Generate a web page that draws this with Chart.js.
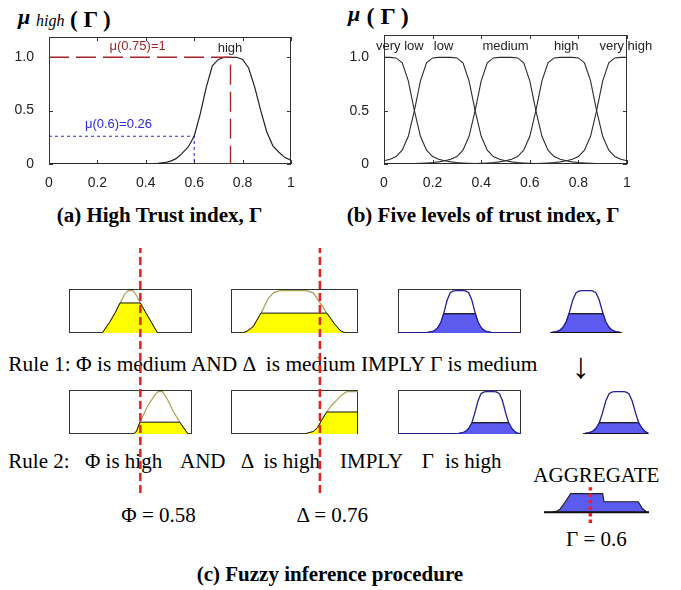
<!DOCTYPE html>
<html>
<head>
<meta charset="utf-8">
<script src="https://cdn.jsdelivr.net/npm/chart.js@4.4.1/dist/chart.umd.min.js"></script>
<style>
  html, body { margin: 0; padding: 0; background: #fff; }
  #page { position: relative; width: 681px; height: 590px; overflow: hidden;
          font-family: "Liberation Serif", "Times New Roman", serif; color: #000; }
  canvas { position: absolute; }
  .t { position: absolute; white-space: pre; line-height: 1; }
</style>
</head>
<body>
<div id="page"></div>
<script>
// ---- data ----
const trustGrid = [0, 0.025, 0.05, 0.075, 0.1, 0.125, 0.15, 0.175, 0.2, 0.225, 0.25, 0.275, 0.3, 0.325,
  0.35, 0.375, 0.4, 0.425, 0.45, 0.475, 0.5, 0.525, 0.55, 0.575, 0.6, 0.625, 0.65, 0.675, 0.7,
  0.725, 0.75, 0.775, 0.8, 0.825, 0.85, 0.875, 0.9, 0.925, 0.95, 0.975, 1];

// (a) high trust membership
const muHigh = [0, 0, 0, 0, 0, 0, 0, 0, 0, 0, 0, 0, 0, 0, 0, 0, 0, 0, 0.005, 0.012, 0.025, 0.05, 0.1,
  0.16, 0.26, 0.47, 0.72, 0.92, 0.98, 1, 1, 1, 0.98, 0.9, 0.72, 0.5, 0.3, 0.17, 0.11, 0.06, 0.035];

// (b) five levels
const veryLow = [1, 1, 0.995, 0.95, 0.78, 0.5, 0.26, 0.13, 0.07, 0.045, 0.03, 0.02, 0.014, 0.01, 0.007,
  0.005, 0.004, 0.003, 0.002, 0.002, 0.001, 0.001, 0.001, 0.001, 0, 0, 0, 0, 0, 0, 0, 0, 0, 0, 0, 0, 0, 0, 0, 0, 0];
const low = [0.03, 0.045, 0.07, 0.13, 0.26, 0.5, 0.78, 0.95, 0.995, 1, 1, 1, 0.995, 0.95, 0.78, 0.5, 0.26,
  0.13, 0.07, 0.045, 0.03, 0.02, 0.014, 0.01, 0.007, 0.005, 0.004, 0.003, 0.002, 0.002, 0.001, 0.001, 0.001,
  0, 0, 0, 0, 0, 0, 0, 0];
const medium = [0.001, 0.002, 0.002, 0.003, 0.004, 0.005, 0.007, 0.01, 0.014, 0.02, 0.03, 0.045, 0.07, 0.13,
  0.26, 0.5, 0.78, 0.95, 0.995, 1, 1, 1, 0.995, 0.95, 0.78, 0.5, 0.26, 0.13, 0.07, 0.045, 0.03, 0.02, 0.014,
  0.01, 0.007, 0.005, 0.004, 0.003, 0.002, 0.002, 0.001];
const high = [0, 0, 0, 0, 0, 0, 0, 0, 0.001, 0.001, 0.001, 0.002, 0.002, 0.003, 0.004, 0.005, 0.007, 0.01,
  0.014, 0.02, 0.03, 0.045, 0.07, 0.13, 0.26, 0.5, 0.78, 0.95, 0.995, 1, 1, 1, 0.995, 0.95, 0.78, 0.5, 0.26,
  0.13, 0.07, 0.045, 0.03];
const veryHigh = [0, 0, 0, 0, 0, 0, 0, 0, 0, 0, 0, 0, 0, 0, 0, 0, 0, 0.001, 0.001, 0.001, 0.001, 0.002, 0.002,
  0.003, 0.004, 0.005, 0.007, 0.01, 0.014, 0.02, 0.03, 0.045, 0.07, 0.13, 0.26, 0.5, 0.78, 0.95, 0.995, 1, 1];
const levelNames = ['very low', 'low', 'medium', 'high', 'very high'];

const xTicks = [0, 0.2, 0.4, 0.6, 0.8, 1];
const yTicks = [0, 0.5, 1];
const PEAK = 0.75, PROBE = 0.6, PROBE_MU = 0.26;

// (c) inference panels, [x, membership]
const phiMedium = [[0.27, 0], [0.33, 0.25], [0.38, 0.5], [0.415, 0.71], [0.45, 0.9], [0.48, 1], [0.52, 1],
  [0.55, 0.88], [0.58, 0.71], [0.62, 0.5], [0.67, 0.25], [0.72, 0]];
const phiMediumCut = [[0.27, 0], [0.33, 0.25], [0.38, 0.5], [0.415, 0.71], [0.58, 0.71], [0.62, 0.5],
  [0.67, 0.25], [0.72, 0]];
const deltaMedium = [[0.274, 0], [0.3, 0.04], [0.34, 0.15], [0.389, 0.47], [0.435, 0.82], [0.47, 0.96],
  [0.509, 1], [0.677, 1], [0.718, 0.95], [0.771, 0.66], [0.803, 0.47], [0.855, 0.2], [0.89, 0.05], [0.918, 0]];
const deltaMediumCut = [[0.274, 0], [0.3, 0.04], [0.34, 0.15], [0.389, 0.47], [0.803, 0.47], [0.855, 0.2],
  [0.89, 0.05], [0.918, 0]];
const gammaMedium = [[0, 0], [0.23, 0], [0.25, 0.018], [0.275, 0.03], [0.3, 0.06], [0.325, 0.13], [0.35, 0.26],
  [0.375, 0.5], [0.4, 0.78], [0.425, 0.95], [0.45, 0.995], [0.475, 1], [0.5, 1], [0.525, 1], [0.55, 0.995],
  [0.575, 0.95], [0.6, 0.78], [0.625, 0.5], [0.65, 0.26], [0.675, 0.13], [0.7, 0.06], [0.725, 0.03],
  [0.75, 0.018], [0.77, 0], [1, 0]];
const gammaMediumCut = [[0.23, 0], [0.25, 0.018], [0.275, 0.03], [0.3, 0.06], [0.325, 0.13], [0.35, 0.26],
  [0.372, 0.46], [0.628, 0.46], [0.65, 0.26], [0.675, 0.13], [0.7, 0.06], [0.725, 0.03], [0.75, 0.018], [0.77, 0]];

const phiHigh = [[0.527, 0], [0.55, 0.07], [0.576, 0.28], [0.645, 0.69], [0.7, 0.93], [0.724, 1], [0.76, 1],
  [0.8, 0.82], [0.848, 0.53], [0.9, 0.28], [0.967, 0]];
const phiHighCut = [[0.527, 0], [0.55, 0.07], [0.576, 0.28], [0.9, 0.28], [0.967, 0]];
const deltaHigh = [[0.666, 0], [0.69, 0.03], [0.72, 0.06], [0.745, 0.15], [0.775, 0.35], [0.803, 0.52],
  [0.835, 0.68], [0.866, 0.8], [0.9, 0.93], [0.93, 1], [1, 1]];
const deltaHighCut = [[0.666, 0], [0.69, 0.03], [0.72, 0.06], [0.745, 0.15], [0.775, 0.35], [0.803, 0.52],
  [1, 0.52], [1, 0]];
const gammaHigh = [[0, 0], [0.48, 0], [0.5, 0.018], [0.525, 0.03], [0.55, 0.06], [0.575, 0.13], [0.6, 0.26],
  [0.625, 0.5], [0.65, 0.78], [0.675, 0.95], [0.7, 0.995], [0.725, 1], [0.75, 1], [0.775, 1], [0.8, 0.995],
  [0.825, 0.95], [0.85, 0.78], [0.875, 0.5], [0.9, 0.26], [0.925, 0.13], [0.95, 0.05], [0.97, 0.02], [1, 0.01]];
const gammaHighCut = [[0.48, 0], [0.5, 0.018], [0.525, 0.03], [0.55, 0.06], [0.575, 0.13], [0.6, 0.26],
  [0.602, 0.27], [0.898, 0.27], [0.9, 0.26], [0.925, 0.13], [0.95, 0.05], [0.97, 0.02], [0.97, 0]];

const aggregate = [[0.26, 0], [0.316, 0], [0.35, 0.02], [0.377, 0.07], [0.41, 0.22], [0.456, 0.44],
  [0.69, 0.44], [0.7, 0.25], [0.951, 0.25], [0.98, 0.1], [1.013, 0], [1.03, 0]];

const PHI = 0.58, DELTA = 0.76, GAMMA = 0.6;

// ---- helpers ----
const page = document.getElementById('page');
const pts = (xs, ys) => xs.map((x, i) => ({ x, y: ys[i] }));
const pairs = a => a.map(([x, y]) => ({ x, y }));

function addCanvas(left, top, w, h, z) {
  const c = document.createElement('canvas');
  c.width = w; c.height = h;
  Object.assign(c.style, { left: left + 'px', top: top + 'px', width: w + 'px', height: h + 'px', zIndex: z });
  page.appendChild(c);
  return c;
}

function text(str, x, base, size, css) {
  const d = document.createElement('div');
  d.className = 't';
  d.textContent = str;
  d.style.left = x + 'px';
  d.style.top = (base - 0.8375 * size) + 'px';
  d.style.fontSize = size + 'px';
  if (css) Object.assign(d.style, css);
  page.appendChild(d);
}

// box around the plot area, with matlab-like inward ticks
const frame = {
  id: 'frame',
  beforeDatasetsDraw(chart, args, o) {
    if (!o.show) return;
    const { ctx, chartArea: a } = chart;
    ctx.save();
    ctx.strokeStyle = '#333';
    ctx.lineWidth = 1;
    ctx.strokeRect(a.left + 0.5, a.top + 0.5, a.right - a.left - 1, a.bottom - a.top - 1);
    if (o.ticks) {
      const { x, y } = chart.scales;
      ctx.beginPath();
      xTicks.forEach(v => {
        const px = Math.round(x.getPixelForValue(v)) + 0.5;
        ctx.moveTo(px, a.bottom); ctx.lineTo(px, a.bottom - 4);
        ctx.moveTo(px, a.top); ctx.lineTo(px, a.top + 4);
      });
      yTicks.forEach(v => {
        const py = Math.round(y.getPixelForValue(v)) + 0.5;
        ctx.moveTo(a.left, py); ctx.lineTo(a.left + 4, py);
        ctx.moveTo(a.right, py); ctx.lineTo(a.right - 4, py);
      });
      ctx.stroke();
    }
    ctx.restore();
  }
};

const tags = {
  id: 'tags',
  afterDatasetsDraw(chart, args, o) {
    const { ctx, scales: { x, y } } = chart;
    ctx.save();
    ctx.font = '13px "Liberation Sans"';
    ctx.textAlign = 'center';
    ctx.textBaseline = 'middle';
    (o.items || []).forEach(t => {
      ctx.fillStyle = t.color || '#222';
      ctx.fillText(t.text, x.getPixelForValue(t.x), y.getPixelForValue(t.y));
    });
    ctx.restore();
  }
};

const tickFont = { family: 'Liberation Sans', size: 14 };

function trustChart(left, width, yMax, padTop, padRight, datasets, items) {
  const c = addCanvas(left, 0, width, 190, 1);
  new Chart(c, {
    type: 'line',
    data: { datasets },
    options: {
      responsive: false, animation: false, events: [],
      layout: { padding: { top: padTop, right: padRight, left: 0, bottom: 0 } },
      elements: { point: { radius: 0 }, line: { tension: 0 } },
      plugins: { legend: { display: false }, tooltip: { enabled: false }, frame: { show: true, ticks: true }, tags: { items } },
      scales: {
        x: {
          type: 'linear', min: 0, max: 1,
          afterBuildTicks: s => { s.ticks = xTicks.map(v => ({ value: v })); },
          afterFit: s => { s.height = 26; },
          grid: { display: false }, border: { display: false },
          ticks: { font: tickFont, color: '#222', padding: 3, maxRotation: 0, autoSkip: false, callback: v => String(v) }
        },
        y: {
          min: 0, max: yMax,
          afterBuildTicks: s => { s.ticks = yTicks.map(v => ({ value: v })); },
          afterFit: s => { s.width = 49; },
          grid: { display: false }, border: { display: false },
          ticks: { font: tickFont, color: '#222', padding: 7, callback: v => (v === 0 ? '0' : v.toFixed(1)) }
        }
      }
    },
    plugins: [frame, tags]
  });
}

function panel(area, xRange, yRange, datasets, boxed) {
  const p = 3;
  const c = addCanvas(area.left - p, area.top - p, area.w + 2 * p, area.h + 2 * p, 1);
  new Chart(c, {
    type: 'line',
    data: { datasets },
    options: {
      responsive: false, animation: false, events: [],
      layout: { padding: p },
      elements: { point: { radius: 0 }, line: { tension: 0 } },
      plugins: { legend: { display: false }, tooltip: { enabled: false }, frame: { show: boxed } },
      scales: {
        x: { type: 'linear', min: xRange[0], max: xRange[1], display: false },
        y: { min: yRange[0], max: yRange[1], display: false }
      }
    },
    plugins: [frame]
  });
}

function marker(left, w, xRange, value, top, h) {
  const c = addCanvas(left, top, w, h, 3);
  new Chart(c, {
    type: 'line',
    data: { datasets: [{ data: [{ x: value, y: 0 }, { x: value, y: 1 }], borderColor: '#e8201c', borderWidth: 2.5, borderDash: [8, 4] }] },
    options: {
      responsive: false, animation: false, events: [],
      layout: { padding: 0 },
      elements: { point: { radius: 0 } },
      plugins: { legend: { display: false }, tooltip: { enabled: false } },
      scales: {
        x: { type: 'linear', min: xRange[0], max: xRange[1], display: false },
        y: { min: 0, max: 1, display: false }
      }
    }
  });
}

// dataset styles
const KHAKI = '#a9a152', YELLOW = '#ffff00', NAVY = '#20209a', BLUE = '#5b5bf0';
const yellowOutline = d => ({ data: pairs(d), borderColor: KHAKI, borderWidth: 1.2, fill: false, order: 2 });
const yellowCut = d => ({ data: pairs(d), borderColor: '#111', borderWidth: 1, backgroundColor: YELLOW, fill: 'origin', order: 1 });
const blueOutline = d => ({ data: pairs(d), borderColor: NAVY, borderWidth: 1.3, fill: false, order: 2 });
const blueCut = d => ({ data: pairs(d), borderWidth: 1.2, backgroundColor: BLUE, fill: 'origin', order: 1, borderColor: NAVY });
// the flat top of a clipped set (the firing level)
const cutLevel = d => {
  const lvl = Math.max(...d.map(p => p[1]));
  const top = d.filter(p => p[1] === lvl);
  return { data: pairs([top[0], top[top.length - 1]]), borderColor: '#222', borderWidth: 1.2, order: 0 };
};
const baseLine = d => ({ data: [{ x: d[0][0], y: 0 }, { x: d[d.length - 1][0], y: 0 }], borderColor: '#111', borderWidth: 2, order: 0 });

// ---- (a) and (b) ----
trustChart(0, 300, 1.19, 37, 9, [
  { data: [{ x: 0, y: 1 }, { x: PEAK, y: 1 }, { x: PEAK, y: 0 }], borderColor: '#a3262a', borderWidth: 1.4, borderDash: [20, 7], order: 0 },
  { data: [{ x: 0, y: PROBE_MU }, { x: PROBE, y: PROBE_MU }, { x: PROBE, y: 0 }], borderColor: '#2a2ad8', borderWidth: 1.1, borderDash: [3, 3], order: 0 },
  { data: pts(trustGrid, muHigh), borderColor: '#222', borderWidth: 1.2, order: 1 }
], [
  { text: 'μ(0.75)=1', x: 0.366, y: 1.1, color: '#a3262a' },
  { text: 'high', x: 0.748, y: 1.085, color: '#222' },
  { text: 'μ(0.6)=0.26', x: 0.287, y: 0.37, color: '#2a2ad8' }
]);

const levelCenters = [0.065, 0.245, 0.5, 0.75, 0.995];
trustChart(335, 346, 1.21, 35, 54,
  [veryLow, low, medium, high, veryHigh].map(v => ({ data: pts(trustGrid, v), borderColor: '#2a2a2a', borderWidth: 1.1 })),
  levelNames.map((n, i) => ({ text: n, x: levelCenters[i], y: 1.1, color: '#222' }))
);

// titles
text('μ', 18, 24, 22, { fontStyle: 'italic', fontWeight: 'bold' });
text('high', 36, 26.5, 16, { fontStyle: 'italic' });
text('( Γ )', 70, 27.6, 23, { fontWeight: 'bold' });
text('μ', 348, 21, 22, { fontStyle: 'italic', fontWeight: 'bold' });
text('( Γ )', 366.5, 24, 24, { fontWeight: 'bold' });

text('(a) High Trust index, Γ', 56.7, 222.7, 21, { fontWeight: 'bold' });
text('(b) Five levels of trust index, Γ', 346.7, 222.7, 21, { fontWeight: 'bold' });

// ---- (c) inference panels ----
const PHI_RANGE = [0, 1], DELTA_RANGE = [0.2, 1], GAMMA_RANGE = [0, 1], MU_RANGE = [0, 1.04];
const col1 = { left: 69, w: 123 }, col2 = { left: 231, w: 127 }, col3 = { left: 398, w: 123 }, col4 = { left: 520, w: 132 };
const row1 = 289, row2 = 390, rowH = 44;

panel({ ...col1, top: row1, h: rowH }, PHI_RANGE, MU_RANGE, [yellowCut(phiMediumCut), yellowOutline(phiMedium)], true);
panel({ ...col2, top: row1, h: rowH }, DELTA_RANGE, MU_RANGE, [yellowCut(deltaMediumCut), yellowOutline(deltaMedium)], true);
panel({ ...col3, top: row1, h: rowH }, GAMMA_RANGE, MU_RANGE,
  [cutLevel(gammaMediumCut), blueCut(gammaMediumCut), blueOutline(gammaMedium)], true);
panel({ ...col4, top: row1, h: rowH }, GAMMA_RANGE, MU_RANGE,
  [baseLine(gammaMedium.slice(1, -1)), cutLevel(gammaMediumCut), blueCut(gammaMediumCut), blueOutline(gammaMedium.slice(1, -1))], false);

panel({ ...col1, top: row2, h: rowH }, PHI_RANGE, MU_RANGE, [yellowCut(phiHighCut), yellowOutline(phiHigh)], true);
panel({ ...col2, top: row2, h: rowH }, DELTA_RANGE, MU_RANGE, [yellowCut(deltaHighCut), yellowOutline(deltaHigh)], true);
panel({ ...col3, top: row2, h: rowH }, GAMMA_RANGE, MU_RANGE,
  [cutLevel(gammaHighCut), blueCut(gammaHighCut), blueOutline(gammaHigh)], true);
panel({ ...col4, top: row2, h: rowH }, GAMMA_RANGE, MU_RANGE,
  [baseLine(gammaHigh.slice(1, -1)), cutLevel(gammaHighCut), blueCut(gammaHighCut), blueOutline(gammaHigh.slice(1, -1))], false);

// aggregated output with the defuzzified value
panel({ left: 544, w: 105, top: 481, h: 44 }, [0.26, 1.03], [-0.3, 0.74], [
  { data: [{ x: GAMMA, y: -0.25 }, { x: GAMMA, y: 0.59 }], borderColor: '#ff1a1a', borderWidth: 3.5, borderDash: [3.5, 3], order: 0 },
  baseLine(aggregate),
  { data: pairs(aggregate), borderColor: '#222', borderWidth: 1.2, backgroundColor: BLUE, fill: 'origin', order: 1 }
], false);

// input values crossing both rules
marker(col1.left, col1.w, PHI_RANGE, PHI, 248, 245);
marker(col2.left, col2.w, DELTA_RANGE, DELTA, 248, 245);

// texts of (c)
text('Rule 1: Φ is medium AND Δ  is medium IMPLY Γ is medium', 8.3, 371.5, 21.4);
text('Rule 2:', 8.3, 468.3, 21);
text('Φ is high', 85, 468.3, 21);
text('AND', 180, 468.3, 21);
text('Δ  is high', 240.7, 468.3, 21);
text('IMPLY', 340, 468.3, 21);
text('Γ', 421.7, 468.3, 21);
text('is high', 445, 468.3, 21);
text('↓', 572, 378, 36);
text('AGGREGATE', 533.3, 482.3, 21);
text('Φ = 0.58', 121.3, 522.3, 21);
text('Δ = 0.76', 296.6, 522.3, 21);
text('Γ = ' + GAMMA, 566, 546.7, 21);
text('(c) Fuzzy inference procedure', 196.7, 582, 21, { fontWeight: 'bold' });
</script>
</body>
</html>
